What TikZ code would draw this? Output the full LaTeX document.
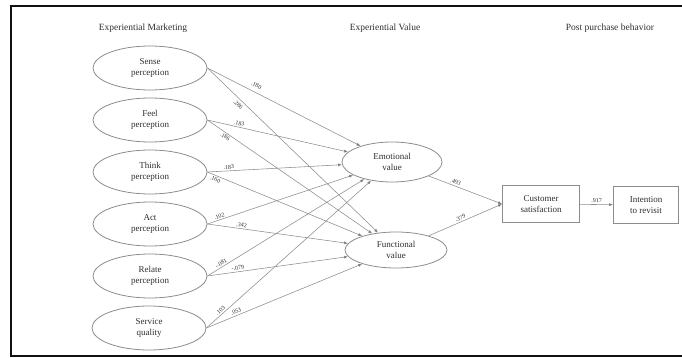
\documentclass[tikz,border=0pt]{standalone}
\usepackage{fontspec}
\setmainfont{Liberation Serif}
\usetikzlibrary{arrows.meta,shapes.geometric,positioning}
\definecolor{emInk}{HTML}{2E2E2E}
\definecolor{emLine}{HTML}{8C8C8C}
\definecolor{emFrame}{HTML}{111111}
\tikzset{
  em construct/.style={
    ellipse,
    draw=emLine,
    line width=.8pt,
    minimum width=114pt,
    minimum height=44pt,
    inner sep=0pt,
    align=center,
    font=\fontsize{9}{11}\selectfont,
    text=emInk
  },
  em value/.style={em construct, minimum width=100pt, minimum height=40pt},
  em box/.style={
    draw=emLine,
    line width=.8pt,
    minimum height=37pt,
    inner sep=0pt,
    align=center,
    font=\fontsize{9}{11}\selectfont,
    text=emInk
  },
  em path/.style={
    draw=emLine,
    line width=.55pt,
    -{Latex[length=4pt,width=3pt,fill=emInk]}
  },
  em coef/.style={font=\fontsize{6}{7}\selectfont, text=emInk, sloped, inner sep=1.5pt},
  em header/.style={font=\fontsize{9.5}{11}\selectfont, text=emInk},
  em frame/.style={draw=emFrame, line width=1.4pt}
}

\begin{document}
\begin{tikzpicture}[x=1pt,y=-1pt]
  \useasboundingbox (0,0) rectangle (682,358);
  \draw[em frame] (11,6) rectangle (692,356);

  \node[em header] (hMark) at (143,28) {Experiential Marketing};
  \node[em header] (hValue) at (385,28) {Experiential Value};
  \node[em header] (hPost) at (610,28) {Post purchase behavior};

  \node[em construct] (sense) at (150,68) {Sense\\perception};
  \node[em construct] (feel) at (150,120) {Feel\\perception};
  \node[em construct] (think) at (150,172) {Think\\perception};
  \node[em construct] (act) at (150,224) {Act\\perception};
  \node[em construct] (relate) at (150,276) {Relate\\perception};
  \node[em construct] (service) at (149,328) {Service\\quality};

  \node[em value] (emo) at (392,162) {Emotional\\value};
  \node[em value, minimum width=102pt, minimum height=36pt] (func) at (396,250) {Functional\\value};

  \node[em box, minimum width=77pt] (cs) at (541,204) {Customer\\satisfaction};
  \node[em box, minimum width=65pt] (intent) at (646,205) {Intention\\to revisit};

  \draw[em path] (sense.east) -- node[em coef, pos=.3, above=3pt] {.180} (emo);
  \draw[em path] (sense.east) -- node[em coef, pos=.2, below=1pt] {.286} (func);
  \draw[em path] (feel.east) -- node[em coef, pos=.22, above] {.183} (emo);
  \draw[em path] (feel.east) -- node[em coef, pos=.12, below] {.186} (func);
  \draw[em path] (think.east) -- node[em coef, pos=.16, above] {.183} (emo);
  \draw[em path] (think.east) -- node[em coef, pos=.06, below] {.160} (func);
  \draw[em path] (act.east) -- node[em coef, pos=.09, above] {.102} (emo);
  \draw[em path] (act.east) -- node[em coef, pos=.24, above] {.342} (func);
  \draw[em path] (relate.east) -- node[em coef, pos=.1, above] {-.081} (emo);
  \draw[em path] (relate.east) -- node[em coef, pos=.22, above] {-.079} (func);
  \draw[em path] (service.east) -- node[em coef, pos=.1, above] {.103} (emo);
  \draw[em path] (service.east) -- node[em coef, pos=.2, above] {.053} (func);

  \draw[em path] (emo) -- node[em coef, pos=.35, above] {.493} (cs.west);
  \draw[em path] (func) -- node[em coef, pos=.45, above] {.379} (cs.west);
  \draw[em path] (cs) -- node[em coef, above] {.917} (intent);
\end{tikzpicture}
\end{document}
